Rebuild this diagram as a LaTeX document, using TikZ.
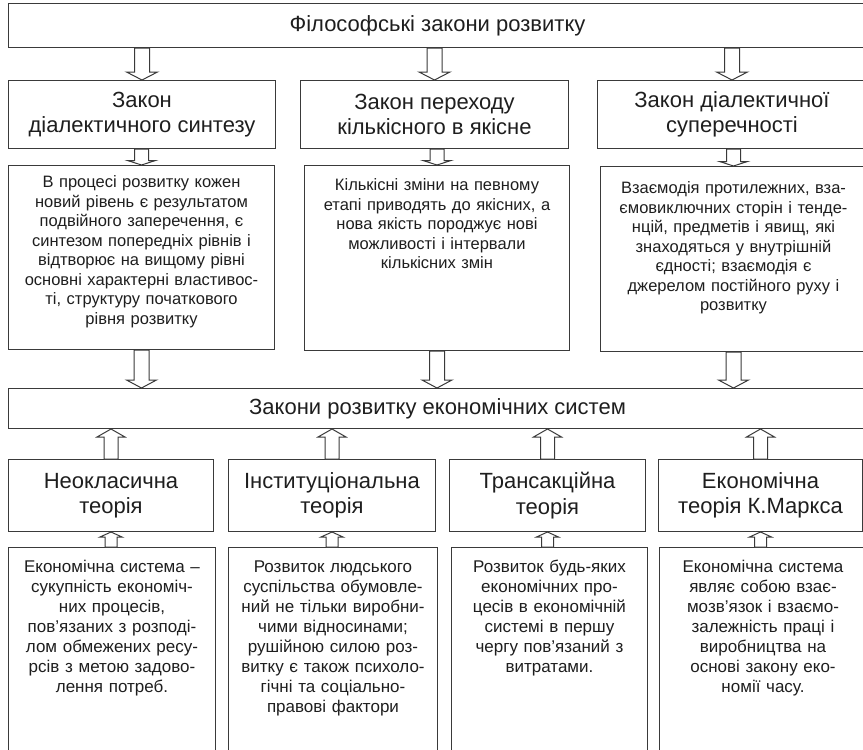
\documentclass[tikz,border=0pt]{standalone}
\usepackage{fontspec}
\setmainfont{Liberation Sans}
\usetikzlibrary{calc}
\definecolor{linegray}{HTML}{3A3A3A}
\definecolor{textgray}{HTML}{1E1E1E}

% hollow block arrow: from, to, shaft half width, head half width, head length
\newcommand{\fatarrow}[5]{%
\draw[fat] let \p1=(#1), \p2=(#2), \n1={(\y1>\y2?1:-1)*#5} in
  (\x2-#3,\y1) -- (\x2-#3,\y2+\n1) -- (\x2-#4,\y2+\n1) -- (\p2)
  -- (\x2+#4,\y2+\n1) -- (\x2+#3,\y2+\n1) -- (\x2+#3,\y1) -- cycle;}

\begin{document}
\begin{tikzpicture}[x=1pt,y=-1pt,
  box/.style={draw=linegray, line width=1pt, anchor=north west, inner sep=0pt, align=center, text=textgray},
  head/.style={box, font=\fontsize{22}{25.5}\selectfont},
  body/.style={box, font=\fontsize{16.5}{19.5}\selectfont},
  note/.style={box, font=\fontsize{17}{20}\selectfont, text height=25pt, text depth=188pt},
  fat/.style={draw=linegray, line width=1pt, fill=white, line join=miter}]
\useasboundingbox (0,0) rectangle (863,750);

\node(Top)[head, minimum width=858pt, minimum height=44pt] at (8,3) {Філософські закони розвитку};

\node(L1)[head, minimum width=267pt, minimum height=68pt] at (8,80) {Закон\\діалектичного синтезу};
\node(L2)[head, minimum width=268pt, minimum height=68pt] at (300,80) {Закон переходу\\кількісного в якісне};
\node(L3)[head, minimum width=269pt, minimum height=68pt] at (597,80) {Закон діалектичної\\суперечності};

\node(D1)[body, text width=266pt, text height=22pt, text depth=162pt] at (8,165)
  {В процесі розвитку кожен\\новий рівень є результатом\\подвійного заперечення, є\\синтезом попередніх рівнів і\\відтворює на вищому рівні\\основні характерні властивос-\\ті, структуру початкового\\рівня розвитку};
\node(D2)[body, text width=265pt, text height=25pt, text depth=160pt] at (304,165)
  {Кількісні зміни на певному\\етапі приводять до якісних, а\\нова якість породжує нові\\можливості і інтервали\\кількісних змін};
\node(D3)[body, text width=266pt, text height=27pt, text depth=158pt] at (600,166)
  {Взаємодія протилежних, вза-\\ємовиключних сторін і тенде-\\нцій, предметів і явищ, які\\знаходяться у внутрішній\\єдності; взаємодія є\\джерелом постійного руху і\\розвитку};

\node(Mid)[head, minimum width=858pt, minimum height=40pt] at (8,388) {Закони розвитку економічних систем};

\node(T1)[head, minimum width=205pt, minimum height=72pt] at (8,459) {Неокласична\\теорія};
\node(T2)[head, minimum width=207pt, minimum height=72pt] at (228,459) {Інституціональна\\теорія};
\node(T3)[head, minimum width=196pt, minimum height=72pt] at (449,459) {Трансакційна\\теорія};
\node(T4)[head, minimum width=204pt, minimum height=72pt] at (658,459) {Економічна\\теорія К.Маркса};

\node(E1)[note, text width=207pt] at (8,547)
  {Економічна система –\\сукупність економіч-\\них процесів,\\пов’язаних з розподі-\\лом обмежених ресу-\\рсів з метою задово-\\лення потреб.};
\node(E2)[note, text width=209pt] at (228,547)
  {Розвиток людського\\суспільства обумовле-\\ний не тільки виробни-\\чими відносинами;\\рушійною силою роз-\\витку є також психоло-\\гічні та соціально-\\правові фактори};
\node(E3)[note, text width=196pt] at (451,547)
  {Розвиток будь-яких\\економічних про-\\цесів в економічній\\системі в першу\\чергу пов’язаний з\\витратами.};
\node(E4)[note, text width=207pt] at (659,547)
  {Економічна система\\являє собою взає-\\мозв’язок і взаємо-\\залежність праці і\\виробництва на\\основі закону еко-\\номії часу.};

% down
\fatarrow{Top.south -| L1.north}{L1.north}{7.5}{15.5}{8}
\fatarrow{Top.south -| L2.north}{L2.north}{7.5}{15.5}{8}
\fatarrow{Top.south -| L3.north}{L3.north}{7.5}{15.5}{8}
\fatarrow{L1.south}{D1.north}{7}{14}{4.5}
\fatarrow{L2.south}{D2.north}{7}{14}{4.5}
\fatarrow{L3.south}{D3.north}{7}{14}{4.5}
\fatarrow{D1.south}{Mid.north -| D1.south}{7.5}{15}{8}
\fatarrow{D2.south}{Mid.north -| D2.south}{7.5}{15}{8}
\fatarrow{D3.south}{Mid.north -| D3.south}{7.5}{15}{8}
% up
\fatarrow{T1.north}{Mid.south -| T1.north}{7}{14}{8}
\fatarrow{T2.north}{Mid.south -| T2.north}{7}{14}{8}
\fatarrow{T3.north}{Mid.south -| T3.north}{7}{14}{8}
\fatarrow{T4.north}{Mid.south -| T4.north}{7}{14}{8}
\fatarrow{E1.north}{T1.south}{6}{11}{5}
\fatarrow{E2.north}{T2.south}{6}{11}{5}
\fatarrow{E3.north}{T3.south}{6}{11}{5}
\fatarrow{E4.north}{T4.south}{6}{11}{5}
\end{tikzpicture}
\end{document}
